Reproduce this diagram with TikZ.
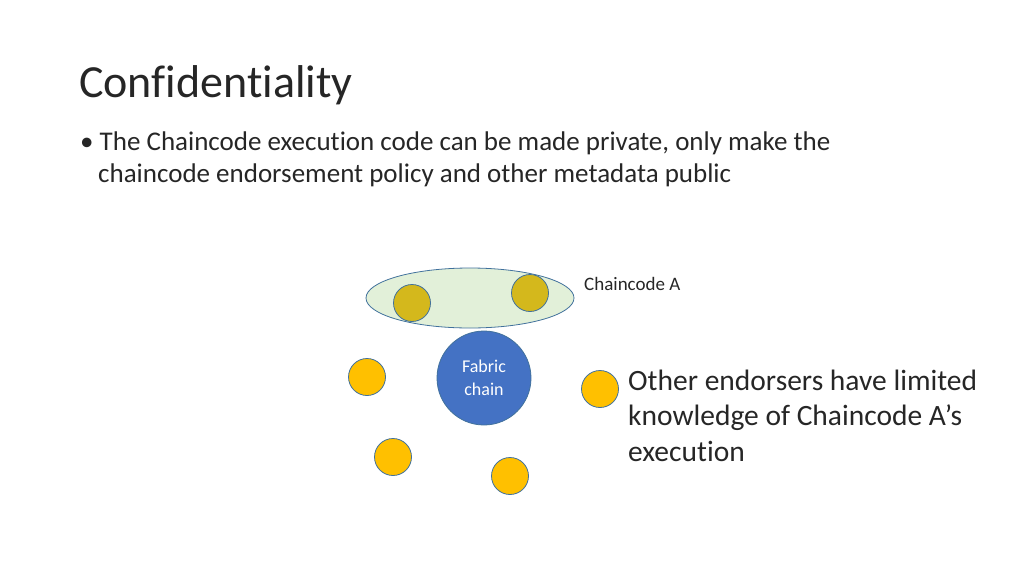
\documentclass[tikz,border=0pt]{standalone}
\usepackage{fontspec}
\setmainfont[Ligatures={NoCommon}]{Carlito}
\usetikzlibrary{shapes.geometric}
\definecolor{blueline}{HTML}{41719C}
\definecolor{greenfill}{HTML}{E2F0D9}
\definecolor{goldfill}{HTML}{D4B81C}
\definecolor{orangefill}{HTML}{FFC000}
\definecolor{chainfill}{HTML}{4472C4}
\definecolor{txt}{HTML}{262626}
\begin{document}
\begin{tikzpicture}[x=1pt,y=-1pt,
  peer/.style={draw=blueline,circle,fill=orangefill,minimum size=37pt,inner sep=0pt,line width=.8pt},
  gold/.style={peer,fill=goldfill},
  label text/.style={anchor=west,inner sep=0pt,text=txt}]
\useasboundingbox (0,0) rectangle (1024,576);
\node[label text,font=\fontsize{46}{50}\selectfont] (title) at (79,85) {Confidentiality};
\node[label text,font=\fontsize{27}{32}\selectfont,anchor=base west,align=left] (bullet) at (80,182)
  {\textbullet\ The Chaincode execution code can be made private, only make the\\
   \hspace*{18pt}chaincode endorsement policy and other metadata public};

\node[draw=blueline,ellipse,fill=greenfill,minimum width=208pt,minimum height=60pt,line width=.8pt] (group) at (470,298) {};
\node[gold] (g1) at (412,303) {};
\node[gold] (g2) at (530,293) {};
\node[label text,font=\fontsize{19}{22}\selectfont] (cc) at (584,284) {Chaincode A};

\node[circle,draw=blueline,fill=chainfill,minimum size=94pt,inner sep=0pt,line width=.8pt,
  text=white,align=center,font=\fontsize{18}{23}\selectfont] (chain) at (484,378) {Fabric\\chain};

\node[peer] (p1) at (367,377) {};
\node[peer] (p2) at (600,389) {};
\node[peer] (p3) at (393,457) {};
\node[peer] (p4) at (510,476) {};

\node[label text,anchor=base west,align=left,font=\fontsize{29.5}{35.5}\selectfont] (note) at (628,461)
  {Other endorsers have limited\\knowledge of Chaincode A’s\\execution};
\end{tikzpicture}
\end{document}
